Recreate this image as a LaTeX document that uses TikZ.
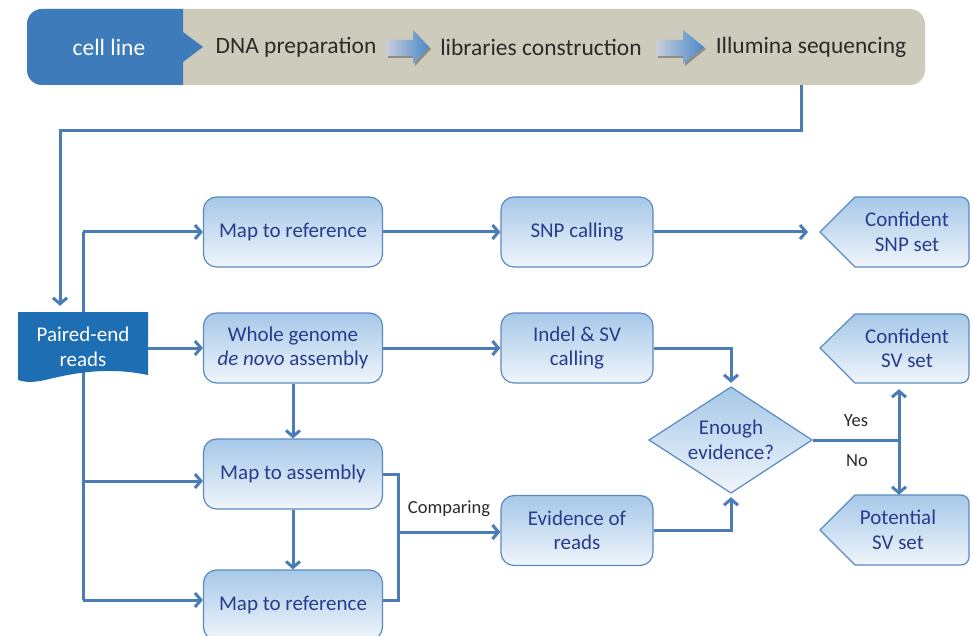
\documentclass[tikz,border=0pt]{standalone}
\usepackage{fontspec}
\setmainfont{Carlito}
\usetikzlibrary{arrows.meta}
\definecolor{bannergray}{HTML}{CDCBBB}
\definecolor{bannerblue}{HTML}{3E7BBA}
\definecolor{pairblue}{HTML}{1E6EB4}
\definecolor{linecol}{HTML}{4A7CB6}
\definecolor{boxtop}{HTML}{A6C8E8}
\definecolor{boxbot}{HTML}{F0F5FB}
\definecolor{boxborder}{HTML}{5A8AC2}
\definecolor{txtblue}{HTML}{283C8C}
\definecolor{txtgray}{HTML}{2A2A2A}
\definecolor{arrgray}{HTML}{C9CFD9}
\definecolor{arrblue}{HTML}{4A88CC}
\definecolor{arrshadow}{HTML}{8E8E86}
\tikzset{
  conn/.style={draw=linecol, line width=3pt},
  arr/.style={conn, -{Straight Barb[length=6pt,width=14pt]}},
  bantext/.style={font=\fontsize{23.5}{26}\selectfont, text=txtgray, inner sep=0pt},
  proc/.style={draw=boxborder, line width=1.2pt, rounded corners=13pt,
    top color=boxtop, middle color=boxtop, bottom color=boxbot,
    minimum width=179pt, minimum height=70pt, inner sep=0pt,
    text=txtblue, align=center, font=\fontsize{21}{24.5}\selectfont},
  proc2/.style={proc, minimum width=152pt},
  shapefill/.style={draw=boxborder, line width=1.2pt,
    top color=boxtop, middle color=boxtop, bottom color=boxbot},
  dtext/.style={text=txtblue, align=center, inner sep=0pt, font=\fontsize{21}{24.5}\selectfont},
  lbl/.style={text=txtgray, inner sep=0pt, font=\fontsize{18.5}{21}\selectfont},
  banarrow/.style={left color=arrgray, right color=arrblue}
}
\begin{document}
\begin{tikzpicture}[x=1pt,y=-1pt]
\useasboundingbox (0,0) rectangle (971,636);

% ---------- banner ----------
\node[fill=bannergray, rounded corners=15pt, minimum width=898pt, minimum height=76pt, inner sep=0pt] (banner) at (476,47) {};
\fill[bannerblue] (183,9) -- (183,32) -- (203,47) -- (183,62) -- (183,85)
  [rounded corners=15pt] -- (27,85) -- (27,9) [sharp corners] -- cycle;
\node[bantext, text=white] (cell) at (109,47) {cell line};
\node[bantext] (dna) at (296,47) {DNA preparation};
\node[bantext] (lib) at (541,47) {libraries construction};
\node[bantext] (seq) at (811,47) {Illumina sequencing};
% block arrows
\fill[arrshadow] (388,42) -- (415,42) -- (415,32) -- (431,49) -- (415,66) -- (415,58) -- (388,58) -- cycle;
\path[banarrow] (386,40) -- (413,40) -- (413,30) -- (429,47) -- (413,64) -- (413,56) -- (386,56) -- cycle;
\fill[arrshadow] (658,42) -- (685,42) -- (685,32) -- (706,49) -- (685,66) -- (685,58) -- (658,58) -- cycle;
\path[banarrow] (656,40) -- (683,40) -- (683,30) -- (704,47) -- (683,64) -- (683,56) -- (656,56) -- cycle;

% ---------- helper coordinates ----------
\coordinate (c0) at (801,0);
\coordinate (c1) at (60,131);
\coordinate (t1) at (83,232);
\coordinate (t3) at (83,481);
\coordinate (t4) at (83,600);
\coordinate (cmpx) at (398,0);
\coordinate (cmp) at (398,532);
\coordinate (yn) at (899,440);
\coordinate (snptip) at (820,232);

% trunk (behind paired-end)
\draw[conn] (t1) -- (t4);

% ---------- paired-end reads ----------
\fill[pairblue] (18,312) -- (148,312) -- (148,375)
  .. controls (105,366) and (70,374) .. (45,380)
  .. controls (32,383) and (24,382) .. (18,380) -- cycle;
\node[text=white, align=center, inner sep=0pt, minimum width=130pt, minimum height=68pt,
  font=\fontsize{21}{24.5}\selectfont] (pe) at (83,347) {Paired-end\\reads};

% ---------- process boxes ----------
\node[proc] (mr1) at (293,232) {Map to reference};
\node[proc] (wg) at (293,348) {Whole genome\\\textit{de novo} assembly};
\node[proc] (ma) at (293,474) {Map to assembly};
\node[proc] (mr2) at (293,605) {Map to reference};
\node[proc2] (snp) at (577,232) {SNP calling};
\node[proc2] (indel) at (577,348) {Indel \& SV\\calling};
\node[proc2] (evid) at (577,530.5) {Evidence of\\reads};

% ---------- diamond ----------
\path[shapefill] (649,440) -- (731,387) -- (812,440) -- (731,493) -- cycle;
\node[dtext, minimum width=163pt, minimum height=106pt] (dec) at (731,440) {Enough\\evidence?};

% ---------- display shapes ----------
\path[shapefill] (snptip) -- (855,197) [rounded corners=8pt] -- (969,197) -- (969,267) [sharp corners] -- (855,267) -- cycle;
\node[dtext, minimum width=120pt, minimum height=70pt] (csnp) at (907,232) {Confident\\SNP set};
\path[shapefill] (820,348) -- (855,314) [rounded corners=8pt] -- (969,314) -- (969,383) [sharp corners] -- (855,383) -- cycle;
\node[dtext, minimum width=120pt, minimum height=69pt] (csv) at (907,348.5) {Confident\\SV set};
\path[shapefill] (820,530) -- (855,495) [rounded corners=8pt] -- (969,495) -- (969,565) [sharp corners] -- (855,565) -- cycle;
\node[dtext, minimum width=120pt, minimum height=70pt] (psv) at (898,530) {Potential\\SV set};

% ---------- connectors ----------
\draw[arr, shorten >=7pt] (banner.south -| c0) |- (c1) -- (c1 |- pe.north);
\draw[arr] (t1) -- (mr1.west);
\draw[arr] (pe.east |- wg.west) -- (wg.west);
\draw[arr] (t3) -- (t3 -| ma.west);
\draw[arr] (t4) -- (t4 -| mr2.west);
\draw[arr] (mr1.east) -- (snp.west);
\draw[arr, shorten >=12pt] (snp.east) -- (snptip);
\draw[arr] (wg.east) -- (indel.west);
\draw[arr] (wg.south) -- (ma.north);
\draw[arr] (ma.south) -- (mr2.north);
\draw[conn] (ma.east) -| (cmpx |- t4) -- (t4 -| mr2.east);
\draw[arr] (cmp) -- (cmp -| evid.west);
\draw[arr, shorten >=4pt] (indel.east) -| (dec.north);
\draw[arr, shorten >=4pt] (evid.east) -| (dec.south);
\draw[conn] (dec.east) -- (yn);
\draw[arr, shorten >=6pt] (yn) -- (yn |- csv.south);
\draw[arr] (yn) -- (yn |- psv.north);

% ---------- labels ----------
\node[lbl] (lcmp) at (449,509) {Comparing};
\node[lbl] (lyes) at (856,421) {Yes};
\node[lbl] (lno) at (857,461) {No};
\end{tikzpicture}
\end{document}
